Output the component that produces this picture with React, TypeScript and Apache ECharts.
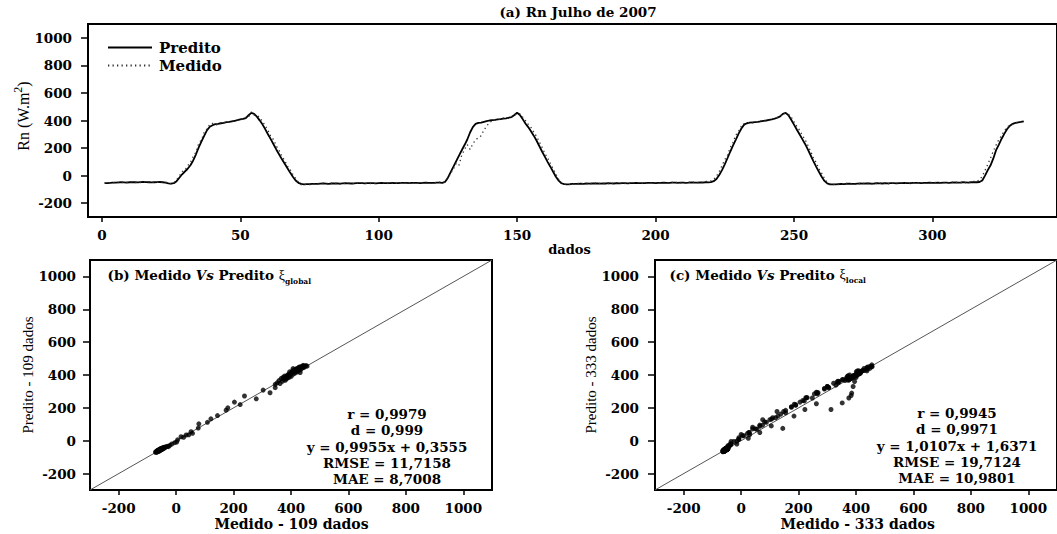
import React, { useEffect, useRef } from 'react';
import * as echarts from 'echarts';

// Rn series, July 2007 (W.m-2), one value per record, records 1..333
const PREDITO = [
  -55, -54, -52, -50, -50, -49, -48, -49, -50, -48,
  -47, -48, -49, -47, -46, -47, -48, -49, -48, -47,
  -46, -48, -50, -56, -58, -55,
  -40, -15, 10, 30, 50, 75, 110, 155, 205, 248, 290, 330, 355, 366, 373,
  376, 380, 383, 388, 390, 394, 398, 402, 408, 412, 418,
  438, 455, 448, 428, 401, 372, 338, 300, 265, 228, 190, 155, 120, 88, 55, 22, -8, -35, -52, -60, -63, -62,
  -61, -60, -59, -60, -58, -57, -58, -59, -57, -56,
  -57, -58, -56, -55, -56, -57, -56, -55, -54, -55,
  -56, -55, -54, -55, -56, -54, -53, -54, -55, -54,
  -53, -54, -55, -53, -52, -53, -54, -53, -52, -53,
  -54, -52, -51, -52, -53, -52, -51, -50, -52,
  -45, -15, 25, 65, 105, 145, 184, 222, 262, 313,
  352, 375, 383, 385, 390, 395, 400, 403, 405, 408,
  410, 413, 416, 420, 425, 440, 456, 440, 410, 378,
  352, 322, 290, 255, 215, 175, 138, 100, 65, 28,
  -8, -36, -55, -62, -63,
  -62, -60, -59, -60, -58, -59, -57, -58, -57, -56,
  -57, -58, -56, -57, -55, -56, -57, -55, -56, -54,
  -55, -56, -54, -55, -53, -54, -55, -54, -53, -52,
  -53, -54, -52, -53, -51, -52, -53, -51, -50, -52,
  -51, -50, -52, -51, -49, -50, -51, -49, -50, -48,
  -49, -47,
  -40, -25, 5, 40, 82, 128, 175, 220, 262, 305,
  342, 370, 380, 384, 386, 388, 390, 393, 397, 400,
  404, 408, 413, 420, 430, 448, 455, 438, 405, 370,
  335, 300, 265, 230, 190, 148, 106, 65, 28, -8,
  -38, -56, -63, -64,
  -63, -61, -60, -61, -59, -58, -59, -60, -58, -57,
  -58, -57, -56, -58, -57, -55, -56, -57, -55, -56,
  -54, -55, -56, -54, -55, -53, -54, -55, -53, -52,
  -53, -54, -52, -53, -51, -52, -53, -51, -52, -50,
  -51, -52, -50, -49, -51, -50, -48, -49, -50, -48,
  -47, -48, -46,
  -35, 0, 40, 75, 125, 185, 225, 268, 305, 338, 362, 376, 382, 386, 390, 394,
];

const MEDIDO = [
  -52, -56, -50, -53, -47, -51, -45, -52, -48, -50,
  -44, -50, -47, -50, -43, -49, -46, -52, -45, -49,
  -44, -50, -47, -53, -60, -52,
  -30, -2, 30, 38, 72, 95, 140, 170, 235, 260, 318, 338, 372, 380, 368,
  372, 384, 380, 392, 386, 398, 395, 405, 412, 409, 422,
  425, 462, 440, 440, 420, 395, 362, 330, 285, 262, 215, 185, 140, 112, 70, 45, 8, -20, -48, -66, -60, -66,
  -65, -58, -62, -57, -61, -55, -60, -62, -55, -59,
  -54, -61, -53, -58, -53, -60, -58, -52, -57, -53,
  -59, -52, -57, -53, -59, -51, -56, -51, -58, -52,
  -56, -51, -58, -50, -55, -50, -57, -51, -55, -50,
  -57, -49, -54, -50, -56, -49, -53, -47, -49,
  -48, -20, 15, 50, 90, 75, 150, 190, 225, 190,
  230, 260, 275, 290, 330, 360, 385, 398, 402, 412,
  406, 418, 412, 424, 428, 436, 452, 448, 425, 400,
  372, 350, 315, 285, 245, 205, 162, 128, 88, 50,
  10, -25, -50, -65, -60,
  -66, -57, -63, -56, -61, -55, -60, -54, -61, -53,
  -60, -55, -59, -53, -58, -52, -60, -51, -58, -50,
  -58, -53, -57, -51, -56, -50, -58, -51, -56, -49,
  -56, -50, -55, -49, -54, -48, -56, -48, -53, -47,
  -54, -46, -55, -47, -52, -45, -54, -44, -47, -42,
  -43, -38,
  -28, -5, 30, 72, 115, 150, 205, 242, 295, 322,
  360, 378, 376, 388, 382, 392, 386, 397, 394, 404,
  400, 412, 410, 424, 428, 452, 450, 445, 425, 392,
  360, 330, 292, 262, 220, 178, 132, 95, 50, 18,
  -20, -48, -60, -67,
  -60, -65, -56, -64, -55, -62, -56, -63, -54, -60,
  -55, -61, -52, -62, -54, -59, -52, -61, -51, -60,
  -50, -58, -53, -58, -51, -57, -50, -58, -49, -55,
  -50, -57, -48, -56, -48, -55, -49, -54, -49, -53,
  -47, -55, -46, -52, -48, -53, -45, -52, -46, -50,
  -42, -44, -30,
  -5, 38, 82, 128, 178, 222, 262, 292, 325, 352, 366, 372, 385, 383, 393, 391,
];

// 109-record sample used for the global coefficient
const B_MEDIDO = [
  -72, -70, -68, -67, -66, -65, -64, -63, -62, -61,
  -60, -60, -59, -58, -57, -56, -56, -55, -54, -53,
  -52, -52, -51, -50, -49, -48, -47, -46, -45, -44,
  -43, -41, -38, -35, -30, -27, -22, -15, -5, 2,
  5, 17, 26, 35, 44, 52, 57, 77, 79, 109,
  121, 144, 174, 180, 203, 223, 238, 279, 303, 327,
  345, 345,
  352, 358, 362, 366, 370, 372, 375, 377, 380, 382,
  384, 386, 388, 390, 392, 394, 395, 397, 399, 401,
  403, 405, 407, 408, 410, 412, 414, 415, 417, 418,
  420, 422, 424, 426, 428, 430, 432, 433, 435, 437,
  440, 442, 444, 446, 448, 452, 456,
];
const B_PREDITO = [
  -70, -66, -71, -62, -68, -60, -66, -58, -64, -57,
  -63, -55, -60, -54, -61, -52, -58, -50, -56, -49,
  -55, -47, -53, -48, -52, -45, -50, -43, -48, -42,
  -46, -40, -42, -36, -34, -36, -28, -20, -12, -8,
  5, 24, 21, 35, 36, 55, 45, 77, 103, 112,
  133, 153, 186, 200, 235, 220, 272, 255, 308, 292,
  343, 323,
  352, 366, 348, 379, 362, 385, 374, 393, 368, 388,
  376, 398, 382, 395, 405, 386, 419, 400, 410, 392,
  415, 425, 439, 405, 420, 430, 412, 435, 422, 429,
  438, 418, 442, 428, 446, 449, 415, 432, 450, 440,
  452, 459, 445, 455, 450, 457, 454,
];

const X_TICKS_TOP = [0, 50, 100, 150, 200, 250, 300];
const Y_TICKS = [-200, 0, 200, 400, 600, 800, 1000];
const SCATTER_TICKS = [-200, 0, 200, 400, 600, 800, 1000];
const ONE_TO_ONE = [-300, 1100];

const STATS_B = ['r = 0,9979', 'd = 0,999', 'y = 0,9955x + 0,3555', 'RMSE = 11,7158', 'MAE = 8,7008'];
const STATS_C = ['r = 0,9945', 'd = 0,9971', 'y = 1,0107x + 1,6371', 'RMSE = 19,7124', 'MAE = 10,9801'];

const BOLD = 'DejaVu Serif';
const TIMES = 'Liberation Serif';

const labelStyle = {
  fontFamily: BOLD,
  fontWeight: 'bold' as const,
  fontSize: 13.5,
  color: '#000',
  formatter: (v: number) => String(v),
};

const frameLine = { show: true, onZero: false, lineStyle: { color: '#000', width: 2 } };

function xAxisFor(gridIndex: number, min: number, max: number, ticks: number[], margin: number) {
  return {
    gridIndex,
    type: 'value' as const,
    min,
    max,
    axisLine: frameLine,
    splitLine: { show: false },
    axisTick: { show: true, inside: false, customValues: ticks, length: 5, lineStyle: { color: '#000', width: 1.5 } },
    axisLabel: { ...labelStyle, customValues: ticks, margin },
  };
}

function yAxisFor(gridIndex: number, margin: number) {
  return {
    gridIndex,
    type: 'value' as const,
    min: -300,
    max: 1100,
    axisLine: frameLine,
    splitLine: { show: false },
    axisTick: { show: true, inside: false, customValues: Y_TICKS, length: 7, lineStyle: { color: '#000', width: 1.5 } },
    axisLabel: { ...labelStyle, customValues: Y_TICKS, margin },
  };
}

function panelTitle(x: number, y: number, tag: string, sub: string) {
  return {
    type: 'text',
    x,
    y,
    style: {
      text: `{t|${tag} Medido }{i|Vs}{t| Predito }{x|ξ}{s|${sub}}`,
      verticalAlign: 'middle',
      rich: {
        t: { fontFamily: BOLD, fontWeight: 'bold', fontSize: 13.5, lineHeight: 20, verticalAlign: 'middle', fill: '#000' },
        i: { fontFamily: BOLD, fontWeight: 'bold', fontStyle: 'italic', fontSize: 13.5, lineHeight: 20, verticalAlign: 'middle', fill: '#000' },
        x: { fontFamily: TIMES, fontSize: 14, lineHeight: 20, verticalAlign: 'middle', fill: '#000' },
        s: { fontFamily: BOLD, fontWeight: 'bold', fontSize: 7.5, lineHeight: 20, verticalAlign: 'bottom', fill: '#000' },
      },
    },
  };
}

function statsBlock(x: number, y: number, lines: string[]) {
  return {
    type: 'text',
    x,
    y,
    style: {
      text: lines.join('\n'),
      fontFamily: BOLD,
      fontWeight: 'bold',
      fontSize: 13.5,
      lineHeight: 16.4,
      align: 'center',
      verticalAlign: 'middle',
      fill: '#000',
    },
  };
}

function plainText(x: number, y: number, text: string, rotated: boolean, family: string, size: number, bold: boolean) {
  return {
    type: 'text',
    x,
    y,
    rotation: rotated ? Math.PI / 2 : 0,
    style: {
      text,
      fontFamily: family,
      fontWeight: bold ? 'bold' : 'normal',
      fontSize: size,
      align: 'center',
      verticalAlign: 'middle',
      fill: '#000',
    },
  };
}

export default function App() {
  const ref = useRef<HTMLDivElement>(null);

  useEffect(() => {
    if (!ref.current) return;
    const chart = echarts.init(ref.current, null, { renderer: 'svg' });

    const gridBox = { show: true, borderColor: '#000', borderWidth: 2, backgroundColor: 'transparent' };

    const option = {
      animation: false,
      backgroundColor: '#fff',
      grid: [
        { left: 88, top: 24, width: 990, height: 193, ...gridBox },
        { left: 90, top: 260, width: 402, height: 230, ...gridBox },
        { left: 655, top: 260, width: 404, height: 230, ...gridBox },
      ],
      xAxis: [
        xAxisFor(0, -5, 345, X_TICKS_TOP, 11),
        xAxisFor(1, -300, 1100, SCATTER_TICKS, 11),
        xAxisFor(2, -300, 1100, SCATTER_TICKS, 11),
      ],
      yAxis: [yAxisFor(0, 16), yAxisFor(1, 14), yAxisFor(2, 16)],
      legend: {
        data: ['Predito', 'Medido'],
        orient: 'vertical',
        left: 102,
        top: 35,
        itemWidth: 44,
        itemHeight: 14,
        itemGap: 3,
        selectedMode: false,
        itemStyle: { opacity: 0 },
        textStyle: { fontFamily: BOLD, fontWeight: 'bold', fontSize: 15, color: '#000', padding: [0, 0, 0, 2] },
      },
      series: [
        {
          name: 'Predito',
          type: 'line',
          xAxisIndex: 0,
          yAxisIndex: 0,
          data: PREDITO.map((v, i) => [i + 1, v]),
          symbol: 'none',
          showSymbol: false,
          color: '#000',
          lineStyle: { color: '#000', width: 1.8 },
          z: 3,
        },
        {
          name: 'Medido',
          type: 'line',
          xAxisIndex: 0,
          yAxisIndex: 0,
          data: MEDIDO.map((v, i) => [i + 1, v]),
          symbol: 'none',
          showSymbol: false,
          color: '#333',
          lineStyle: { color: '#333', width: 1.3, type: [1.3, 3.2] },
          z: 4,
        },
        {
          type: 'line',
          xAxisIndex: 1,
          yAxisIndex: 1,
          data: [[ONE_TO_ONE[0], ONE_TO_ONE[0]], [ONE_TO_ONE[1], ONE_TO_ONE[1]]],
          symbol: 'none',
          silent: true,
          lineStyle: { color: '#555', width: 1 },
          z: 2,
        },
        {
          type: 'scatter',
          xAxisIndex: 1,
          yAxisIndex: 1,
          data: B_MEDIDO.map((m, i) => [m, B_PREDITO[i]]),
          symbol: 'circle',
          symbolSize: 5,
          itemStyle: { color: '#000' },
          z: 3,
        },
        {
          type: 'line',
          xAxisIndex: 2,
          yAxisIndex: 2,
          data: [[ONE_TO_ONE[0], ONE_TO_ONE[0]], [ONE_TO_ONE[1], ONE_TO_ONE[1]]],
          symbol: 'none',
          silent: true,
          lineStyle: { color: '#555', width: 1 },
          z: 2,
        },
        {
          type: 'scatter',
          xAxisIndex: 2,
          yAxisIndex: 2,
          data: PREDITO.map((p, i) => [p, MEDIDO[i]]),
          symbol: 'circle',
          symbolSize: 5,
          itemStyle: { color: '#000' },
          z: 3,
        },
      ],
      graphic: [
        plainText(578, 12, '(a) Rn Julho de 2007', false, BOLD, 13.5, true),
        plainText(569.5, 249, 'dados', false, BOLD, 13, true),
        {
          type: 'text',
          x: 23,
          y: 116,
          rotation: Math.PI / 2,
          style: {
            text: '{a|Rn (W.m}{s|2}{a|)}',
            align: 'center',
            verticalAlign: 'middle',
            rich: {
              a: { fontFamily: TIMES, fontSize: 16, lineHeight: 22, verticalAlign: 'middle', fill: '#000' },
              s: { fontFamily: TIMES, fontSize: 12, lineHeight: 22, verticalAlign: 'top', fill: '#000' },
            },
          },
        },
        panelTitle(107.5, 275, '(b)', 'global'),
        panelTitle(669.5, 274.5, '(c)', 'local'),
        statsBlock(387, 446.6, STATS_B),
        statsBlock(957, 445.6, STATS_C),
        plainText(28, 375, 'Predito - 109 dados', true, TIMES, 15, false),
        plainText(590.5, 375, 'Predito - 333 dados', true, TIMES, 15, false),
        plainText(291.5, 524, 'Medido - 109 dados', false, BOLD, 14, true),
        plainText(857.7, 524, 'Medido - 333 dados', false, BOLD, 14, true),
      ],
    };

    chart.setOption(option as any);
    return () => chart.dispose();
  }, []);

  return (
    <div
      ref={ref}
      style={{ position: 'absolute', left: 0, top: 0, width: 1057, height: 534, background: '#fff' }}
    />
  );
}
